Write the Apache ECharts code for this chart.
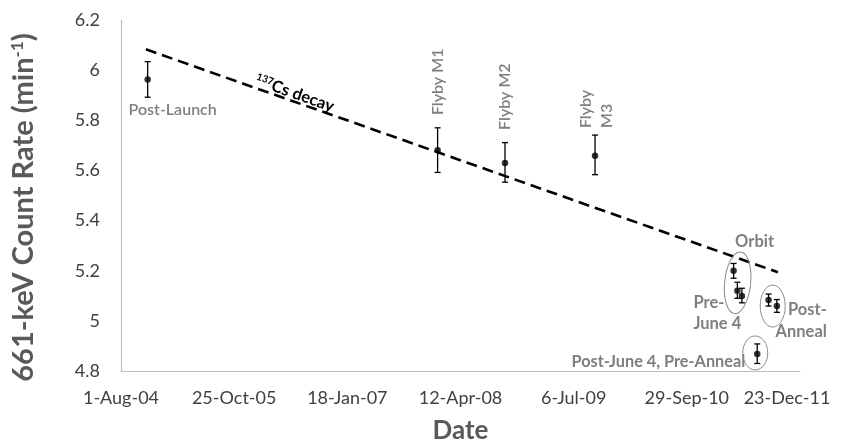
<!DOCTYPE html>
<html><head><meta charset="utf-8">
<script src="https://cdn.jsdelivr.net/npm/echarts@6/dist/echarts.min.js"></script>
<style>html,body{margin:0;padding:0;background:#fff}#c{width:842px;height:445px}</style>
</head><body><div id="c"></div>
<script>
// ---- data ----
const startDate = '2004-08-01';
const xTickLabels = ['1-Aug-04','25-Oct-05','18-Jan-07','12-Apr-08','6-Jul-09','29-Sep-10','23-Dec-11'];
const yTickValues = [4.8,5,5.2,5.4,5.6,5.8,6,6.2];
const pointDates = ['2004-11-15','2008-01-12','2008-10-06','2009-09-29','2011-04-03','2011-04-18','2011-05-06','2011-08-20','2011-09-22','2011-07-06'];
const rateValues = [5.963,5.68,5.63,5.659,5.2,5.12,5.099,5.083,5.059,4.868];
const errLow   = [5.892,5.592,5.553,5.583,5.17,5.09,5.072,5.059,5.034,4.83];
const errHigh  = [6.034,5.77,5.711,5.741,5.229,5.154,5.13,5.107,5.085,4.908];
const decayDates = ['2004-11-08','2011-09-26'];
const decayValues = [6.083,5.194];
const annoTexts = ['Post-Launch','Flyby M1','Flyby M2','Flyby\nM3','Orbit','Pre-\nJune 4','Post-\nAnneal','Post-June 4, Pre-Anneal'];
const annoPoints = [0,1,2,3,4,5,8,9];
const groups = [[4,5,6],[7,8],[9]];

const DAY = 86400000;
const t0 = Date.parse(startDate);
const toDay = d => (Date.parse(d) - t0) / DAY;

const FONT = 'Lato';
const GRAY = '#7f7f7f';
const DARK = '#595959';

const pts = pointDates.map((d,i)=>[toDay(d), rateValues[i], errLow[i], errHigh[i]]);

const chart = echarts.init(document.getElementById('c'), null, {renderer:'canvas'});
chart.setOption({
  animation:false,
  textStyle:{fontFamily:FONT},
  grid:{left:121, right:42, top:20, bottom:74, outerBoundsMode:'none', containLabel:false},
  xAxis:{
    type:'value', min:0, max:2700, interval:450,
    axisLine:{lineStyle:{color:'#bfbfbf', width:1.2}},
    axisTick:{show:false}, splitLine:{show:false},
    axisLabel:{color:'#404040', fontSize:18, fontFamily:FONT, margin:18, hideOverlap:false,
      formatter:(v)=>{const i=Math.round(v/450); return i===xTickLabels.length-1 ? '{l|'+xTickLabels[i]+'}' : xTickLabels[i];},
      rich:{l:{color:'#404040', fontSize:18, fontFamily:FONT, padding:[0,26,0,0]}}},
    name:'Date', nameLocation:'middle', nameGap:47,
    nameTextStyle:{color:DARK, fontSize:26, fontWeight:'bold', fontFamily:FONT}
  },
  yAxis:{
    type:'value', min:4.8, max:6.2, interval:0.2,
    axisLine:{show:true, lineStyle:{color:'#bfbfbf', width:1.2}},
    axisTick:{show:false}, splitLine:{show:false},
    axisLabel:{color:'#404040', fontSize:18, fontFamily:FONT, margin:21,
      formatter:v=>String(Math.round(v*10)/10)},
    name:'{a|661-keV Count Rate (min}{s|-1}{a|)}', nameLocation:'middle', nameGap:83,
    nameTextStyle:{padding:[0,24,0,0], rich:{
      a:{color:DARK, fontSize:29, fontWeight:'bold', fontFamily:FONT},
      s:{color:DARK, fontSize:17, fontWeight:'bold', fontFamily:FONT, padding:[0,0,12,0]}
    }}
  },
  series:[
    {type:'line', data:decayDates.map((d,i)=>[toDay(d), decayValues[i]]),
     symbol:'none', lineStyle:{color:'#000', width:2.6, type:[11,6]}, z:1},
    {type:'custom', data:pts, z:3,
     encode:{x:0,y:[1,2,3]},
     renderItem:(params, api)=>{
       const x=api.value(0), lo=api.coord([x, api.value(2)]), hi=api.coord([x, api.value(3)]);
       const w=3, st={stroke:'#000', lineWidth:1.3};
       return {type:'group', children:[
         {type:'line', shape:{x1:lo[0],y1:lo[1],x2:hi[0],y2:hi[1]}, style:st},
         {type:'line', shape:{x1:lo[0]-w,y1:lo[1],x2:lo[0]+w,y2:lo[1]}, style:st},
         {type:'line', shape:{x1:hi[0]-w,y1:hi[1],x2:hi[0]+w,y2:hi[1]}, style:st}
       ]};
     }},
    {type:'scatter', data:pts.map(p=>[p[0],p[1]]), symbol:'circle', symbolSize:6.5,
     itemStyle:{color:'#000'}, z:4}
  ]
});

// ---- annotations anchored to data ----
const px = i => chart.convertToPixel({gridIndex:0}, [pts[i][0], pts[i][1]]);
const pxHi = i => chart.convertToPixel({gridIndex:0}, [pts[i][0], pts[i][3]]);
const g = [];
const labStyle = (extra) => Object.assign({fill:GRAY, fontFamily:FONT, fontWeight:'bold', fontSize:15}, extra);
// Post-Launch
{ const p = px(annoPoints[0]); g.push({type:'text', x:p[0]+25, y:p[1]+30, style:labStyle({text:annoTexts[0], align:'center', verticalAlign:'middle', fontWeight:600, fontSize:16})}); }
// Flyby labels
[[1,-12.7],[2,-12.7]].forEach(([k,off])=>{
  const p = pxHi(annoPoints[k]);
  g.push({type:'text', x:p[0], y:p[1]+off, rotation:Math.PI/2, style:labStyle({text:annoTexts[k], align:'left', verticalAlign:'middle', fontWeight:600, fontSize:16})});
});
{ const p = pxHi(annoPoints[3]); g.push({type:'text', x:p[0]+1, y:p[1]-7, rotation:Math.PI/2, style:labStyle({text:annoTexts[3], align:'left', verticalAlign:'middle', fontWeight:600, fontSize:16, lineHeight:21})}); }
// Orbit
{ const p = px(annoPoints[4]); g.push({type:'text', x:p[0]+21, y:p[1]-29, style:labStyle({text:annoTexts[4], align:'center', verticalAlign:'middle', fontSize:16.5})}); }
// Pre- June 4
{ const p = px(annoPoints[5]); g.push({type:'text', x:p[0]-44, y:p[1]+22, style:labStyle({text:annoTexts[5], align:'left', verticalAlign:'middle', fontSize:16.5, lineHeight:21})}); }
// Post- Anneal
{ const p = px(annoPoints[6]); g.push({type:'text', x:p[0]+50, y:p[1]+15, style:labStyle({text:annoTexts[6], align:'right', verticalAlign:'middle', fontSize:16.5, lineHeight:22})}); }
// Post-June 4, Pre-Anneal
{ const p = px(annoPoints[7]); g.push({type:'text', x:p[0]-12, y:p[1]+8, style:labStyle({text:annoTexts[7], align:'right', verticalAlign:'middle', fontSize:16.3})}); }
// ellipses around groups
const ell = [[13,31,-0.1,0,-3],[12.5,21,0,0,3],[12.5,17,0,-2,-1]];
groups.forEach((grp,gi)=>{
  let sx=0, sy=0; grp.forEach(i=>{const p=px(i); sx+=p[0]; sy+=p[1];});
  const [rx,ry,rot,dx,dy] = ell[gi];
  g.push({type:'ellipse', x:sx/grp.length+dx, y:sy/grp.length+dy, rotation:rot,
    shape:{cx:0, cy:0, rx, ry}, style:{fill:'none', stroke:'#8c8c8c', lineWidth:1}, z:2});
});
// 137Cs decay label along the dashed line
{
  const a = chart.convertToPixel({gridIndex:0}, [toDay(decayDates[0]), decayValues[0]]);
  const b = chart.convertToPixel({gridIndex:0}, [toDay(decayDates[1]), decayValues[1]]);
  const f = 0.231;
  const ang = Math.atan2(b[1]-a[1], b[0]-a[0]);
  const cx = a[0] + f*(b[0]-a[0]) + 8*Math.sin(ang), cy = a[1] + f*(b[1]-a[1]) - 8*Math.cos(ang);
  g.push({type:'text', x:cx, y:cy, rotation:-ang, z:5, style:{
    text:'{s|137}{c|Cs decay}', align:'center', verticalAlign:'middle',
    rich:{ s:{fill:'#000', fontSize:10, fontWeight:'bold', fontFamily:FONT, padding:[0,0,7,0]},
           c:{fill:'#000', fontSize:16.5, fontWeight:'bold', fontFamily:FONT} }}});
}
chart.setOption({graphic:g});
</script>
</body></html>
